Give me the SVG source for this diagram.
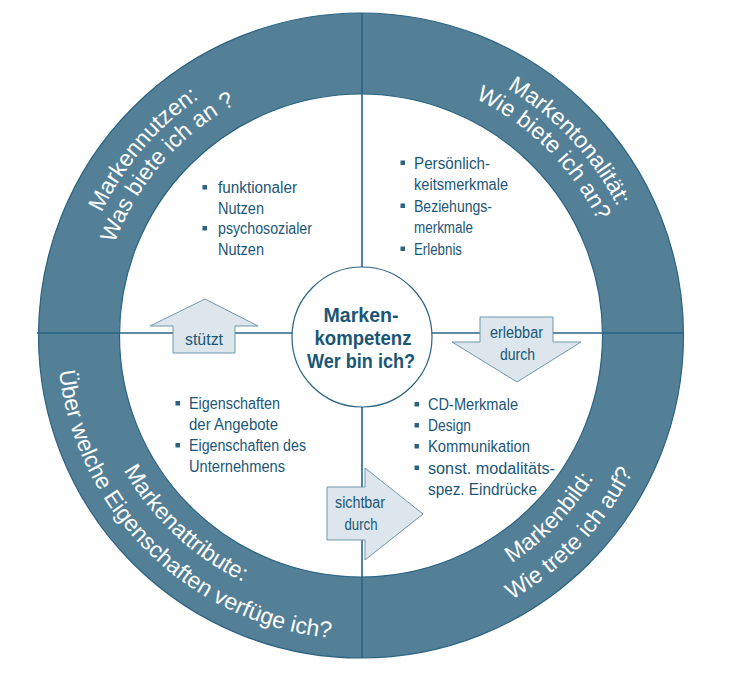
<svg xmlns="http://www.w3.org/2000/svg" width="738" height="678" viewBox="0 0 738 678">
<style>
.ring{fill:#537f97;stroke:#2b6383;stroke-width:1.2}
.inner{fill:#ffffff;stroke:#2b6383;stroke-width:1.2}
.ln{stroke:#2b6383;stroke-width:1.6;fill:none}
.rt{font-family:"Liberation Sans",Arial,sans-serif;font-size:23px;fill:#ffffff}
.bt{font-family:"Liberation Sans Narrow","Liberation Sans",Arial,sans-serif;font-size:16px;fill:#1b5677}
.ct{font-family:"Liberation Sans Narrow","Liberation Sans",Arial,sans-serif;font-size:20px;font-weight:bold;fill:#1b5677;text-anchor:middle}
.at{font-family:"Liberation Sans Narrow","Liberation Sans",Arial,sans-serif;font-size:16px;fill:#1b5677;text-anchor:middle}
.arr{fill:#dce6ec;stroke:#6f97ac;stroke-width:1}
.bl{fill:#2b6383}
</style>
<defs>
<path id="t287" d="M 112.5 192 A 287 287 0 0 1 609.5 192"/>
<path id="t263" d="M 133.2 204 A 263 263 0 0 1 588.8 204"/>
<path id="b304" d="M 97.7 487.5 A 304 304 0 0 0 624.3 487.5"/>
<path id="b273" d="M 124.6 472 A 273 273 0 0 0 597.4 472"/>
</defs>
<g id="ring">
<circle class="ring" cx="361" cy="335.5" r="322.5"/>
<circle class="inner" cx="361" cy="335.5" r="241.5"/>
</g>
<g id="connectors">
<line class="ln" x1="362" y1="13" x2="362" y2="658"/>
<line class="ln" x1="37" y1="333" x2="684" y2="333"/>
</g>
<g id="markennutzen">
<text class="rt" transform="rotate(-49.5 361 335.5)"><textPath href="#t287" startOffset="50%" text-anchor="middle">Markennutzen:</textPath></text>
<text class="rt" transform="rotate(-49 361 335.5)"><textPath href="#t263" startOffset="50%" text-anchor="middle">Was biete ich an ?</textPath></text>
<rect class="bl" x="202.5" y="185" width="4.5" height="4.5"/>
<text class="bt" x="218" y="193" textLength="79" lengthAdjust="spacingAndGlyphs">funktionaler</text>
<text class="bt" x="218" y="213.5" textLength="46" lengthAdjust="spacingAndGlyphs">Nutzen</text>
<rect class="bl" x="202.5" y="226" width="4.5" height="4.5"/>
<text class="bt" x="218" y="234" textLength="94" lengthAdjust="spacingAndGlyphs">psychosozialer</text>
<text class="bt" x="218" y="254.5" textLength="46" lengthAdjust="spacingAndGlyphs">Nutzen</text>
</g>
<g id="markentonalitaet">
<text class="rt" transform="rotate(47 361 335.5)"><textPath href="#t287" startOffset="50%" text-anchor="middle">Markentonalität:</textPath></text>
<text class="rt" transform="rotate(45 361 335.5)"><textPath href="#t263" startOffset="50%" text-anchor="middle">Wie biete ich an?</textPath></text>
<rect class="bl" x="400.5" y="160.5" width="4.5" height="4.5"/>
<text class="bt" x="414" y="168.5" textLength="76" lengthAdjust="spacingAndGlyphs">Persönlich-</text>
<text class="bt" x="414" y="190" textLength="94" lengthAdjust="spacingAndGlyphs">keitsmerkmale</text>
<rect class="bl" x="400.5" y="203.5" width="4.5" height="4.5"/>
<text class="bt" x="414" y="211.5" textLength="78" lengthAdjust="spacingAndGlyphs">Beziehungs-</text>
<text class="bt" x="414" y="233" textLength="59" lengthAdjust="spacingAndGlyphs">merkmale</text>
<rect class="bl" x="400.5" y="246.5" width="4.5" height="4.5"/>
<text class="bt" x="414" y="254.5" textLength="48" lengthAdjust="spacingAndGlyphs">Erlebnis</text>
</g>
<g id="markenattribute">
<text class="rt" transform="rotate(43 361 335.5)"><textPath href="#b273" startOffset="50%" text-anchor="middle">Markenattribute:</textPath></text>
<text class="rt" transform="rotate(44.5 361 335.5)"><textPath href="#b304" startOffset="50%" text-anchor="middle">Über welche Eigenschaften verfüge ich?</textPath></text>
<rect class="bl" x="175.5" y="401" width="4.5" height="4.5"/>
<text class="bt" x="189" y="409" textLength="91" lengthAdjust="spacingAndGlyphs">Eigenschaften</text>
<text class="bt" x="189" y="430" textLength="89" lengthAdjust="spacingAndGlyphs">der Angebote</text>
<rect class="bl" x="175.5" y="443" width="4.5" height="4.5"/>
<text class="bt" x="189" y="451" textLength="117" lengthAdjust="spacingAndGlyphs">Eigenschaften des</text>
<text class="bt" x="189" y="472" textLength="96" lengthAdjust="spacingAndGlyphs">Unternehmens</text>
</g>
<g id="markenbild">
<text class="rt" transform="rotate(-46 361 335.5)"><textPath href="#b273" startOffset="50%" text-anchor="middle">Markenbild:</textPath></text>
<text class="rt" transform="rotate(-46.5 361 335.5)"><textPath href="#b304" startOffset="50%" text-anchor="middle">Wie trete ich auf?</textPath></text>
<rect class="bl" x="414.5" y="402" width="4.5" height="4.5"/>
<text class="bt" x="428" y="410" textLength="90" lengthAdjust="spacingAndGlyphs">CD-Merkmale</text>
<rect class="bl" x="414.5" y="423" width="4.5" height="4.5"/>
<text class="bt" x="428" y="431" textLength="43" lengthAdjust="spacingAndGlyphs">Design</text>
<rect class="bl" x="414.5" y="444" width="4.5" height="4.5"/>
<text class="bt" x="428" y="452" textLength="102" lengthAdjust="spacingAndGlyphs">Kommunikation</text>
<rect class="bl" x="414.5" y="465.5" width="4.5" height="4.5"/>
<text class="bt" x="428" y="473.5" textLength="127" lengthAdjust="spacingAndGlyphs">sonst. modalitäts-</text>
<text class="bt" x="428" y="495" textLength="109" lengthAdjust="spacingAndGlyphs">spez. Eindrücke</text>
</g>
<g id="markenkompetenz">
<circle class="inner" cx="362" cy="337" r="70"/>
<text class="ct" x="361" y="322" textLength="75" lengthAdjust="spacingAndGlyphs">Marken-</text>
<text class="ct" x="363" y="345" textLength="97" lengthAdjust="spacingAndGlyphs">kompetenz</text>
<text class="ct" x="361" y="368" textLength="108" lengthAdjust="spacingAndGlyphs">Wer bin ich?</text>
</g>
<g id="arrow-stuetzt">
<polygon class="arr" points="205,299 258,326 235,326 235,353 173,353 173,326 150,326"/>
<text class="at" x="204" y="345" textLength="38" lengthAdjust="spacingAndGlyphs">stützt</text>
</g>
<g id="arrow-erlebbar">
<polygon class="arr" points="480,317 553,317 553,342 581,342 517,382 452,342 480,342"/>
<text class="at" x="516.5" y="338" textLength="53" lengthAdjust="spacingAndGlyphs">erlebbar</text>
<text class="at" x="517.5" y="360" textLength="35" lengthAdjust="spacingAndGlyphs">durch</text>
</g>
<g id="arrow-sichtbar">
<polygon class="arr" points="327,487 365,487 365,468 423,514 365,560 365,540 327,540"/>
<text class="at" x="360" y="508" textLength="50" lengthAdjust="spacingAndGlyphs">sichtbar</text>
<text class="at" x="361" y="530" textLength="33" lengthAdjust="spacingAndGlyphs">durch</text>
</g>
</svg>
